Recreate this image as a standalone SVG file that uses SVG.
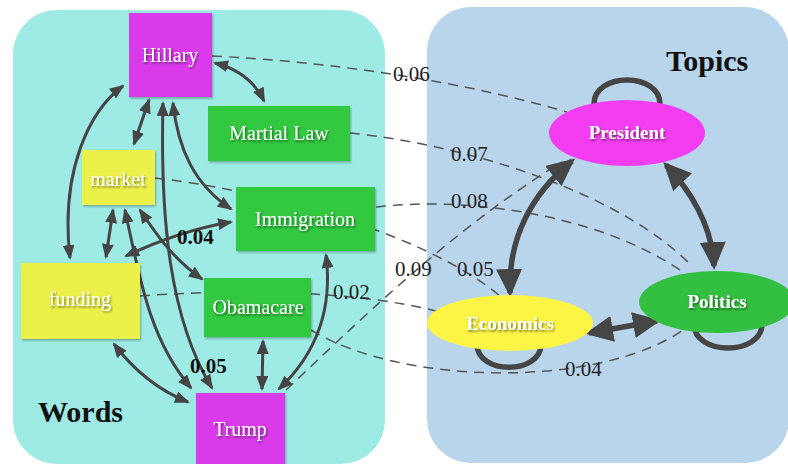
<svg xmlns="http://www.w3.org/2000/svg" width="788" height="464" viewBox="0 0 788 464">
<style>
.nt{font-family:"Liberation Serif",serif;font-size:20px;fill:#fff;text-anchor:middle;filter:url(#ts)}
.tt{font-family:"Liberation Serif",serif;font-size:19px;font-weight:bold;fill:#fff;text-anchor:middle;filter:url(#ts)}
.hd{font-family:"Liberation Serif",serif;font-size:30px;font-weight:bold;fill:#111}
.lb{font-family:"Liberation Serif",serif;font-size:21px;fill:#222}
.lbb{font-family:"Liberation Serif",serif;font-size:21px;font-weight:bold;fill:#111}
.d{fill:none;stroke:#555;stroke-width:1.5;stroke-dasharray:10 7}
.s{fill:none;stroke:#454545;stroke-width:3;marker-start:url(#ah);marker-end:url(#ah)}
.t{fill:none;stroke:#454545;stroke-width:5.5;marker-start:url(#ahb);marker-end:url(#ahb)}
.loop{fill:none;stroke:#454545;stroke-width:5.5}
.mag{fill:#da3aea}.grn{fill:#33c840}.yel{fill:#ecf148}
.box{filter:url(#sh)}
</style>
<defs>
<filter id="sh" x="-10%" y="-10%" width="125%" height="125%"><feDropShadow dx="1" dy="1.5" stdDeviation="1" flood-color="#000" flood-opacity="0.3"/></filter>
<filter id="ts" x="-10%" y="-30%" width="125%" height="170%"><feDropShadow dx="1" dy="1.5" stdDeviation="1" flood-color="#000" flood-opacity="0.55"/></filter>
<marker id="ah" markerUnits="userSpaceOnUse" viewBox="0 0 15 12" markerWidth="15" markerHeight="12" refX="13" refY="6" orient="auto-start-reverse"><path d="M0,0 L15,6 L0,12 z" fill="#454545"/></marker>
<marker id="ahb" markerUnits="userSpaceOnUse" viewBox="0 0 28 26" markerWidth="28" markerHeight="26" refX="24" refY="13" orient="auto-start-reverse"><path d="M0,0 L28,13 L0,26 z" fill="#454545"/></marker>
</defs>

<g id="panels">
<rect x="13" y="10" width="372" height="454" rx="44" fill="#9debe4"/>
<rect x="427" y="7" width="362" height="456" rx="44" fill="#b8d5ec"/>
<text class="hd" x="38" y="422">Words</text>
<text class="hd" x="666" y="71">Topics</text>
</g>

<g id="connectors">
<path class="d" d="M212,56 C300,60 440,75 567,112"/>
<path class="d" d="M350,133 C450,143 610,185 690,264"/>
<path class="d" d="M376,207 C470,196 600,215 683,272"/>
<path class="d" d="M155,178 C260,190 420,230 500,296"/>
<path class="d" d="M286,390 C350,330 450,230 562,162"/>
<path class="d" d="M140,296 C250,288 360,292 436,311"/>
<path class="d" d="M311,330 C400,385 600,390 686,328"/>

<path class="s" d="M215,63 Q250,72 264,101"/>
<path class="s" d="M149,100 L134,144"/>
<path class="s" d="M123,86 C90,110 60,170 70,258"/>
<path class="s" d="M163,103 C160,220 170,320 212,388"/>
<path class="s" d="M173,103 C178,150 195,185 231,209"/>
<path class="s" d="M113,210 L106,257"/>
<path class="s" d="M125,210 C140,280 150,340 191,388"/>
<path class="s" d="M140,210 C160,240 175,260 202,279"/>
<path class="s" d="M126,256 C160,240 195,228 231,222"/>
<path class="s" d="M114,344 Q145,385 188,402"/>
<path class="s" d="M263,341 L262,389"/>
<path class="s" d="M326,255 C333,310 315,355 279,389"/>

<path class="loop" d="M594,104 C594,72 660,72 660,104"/>
<path class="loop" d="M477,344 C477,375 541,375 541,344"/>
<path class="loop" d="M694,324 C694,356 762,356 762,324"/>
<path class="t" d="M510,293 C508,240 530,195 572,161"/>
<path class="t" d="M666,165 C690,190 712,225 714,266"/>
<path class="t" d="M589,333 L657,321"/>

<text class="lb" x="393" y="81">0.06</text>
<text class="lb" x="451" y="161">0.07</text>
<text class="lb" x="451" y="208">0.08</text>
<text class="lb" x="395" y="276">0.09</text>
<text class="lb" x="457" y="276">0.05</text>
<text class="lb" x="333" y="299">0.02</text>
<text class="lb" x="565" y="376">0.04</text>
<text class="lbb" x="177" y="244">0.04</text>
<text class="lbb" x="190" y="373">0.05</text>
</g>

<g id="Hillary"><rect class="box mag" x="129" y="13" width="83" height="84"/><text class="nt" x="170" y="62">Hillary</text></g>
<g id="MartialLaw"><rect class="box grn" x="208" y="106" width="142" height="55"/><text class="nt" x="279" y="140">Martial Law</text></g>
<g id="market"><rect class="box yel" x="82" y="150" width="73" height="55"/><text class="nt" x="118" y="186">market</text></g>
<g id="Immigration"><rect class="box grn" x="236" y="187" width="139" height="64"/><text class="nt" x="305" y="226">Immigration</text></g>
<g id="funding"><rect class="box yel" x="21" y="263" width="119" height="76"/><text class="nt" x="80" y="306">funding</text></g>
<g id="Obamacare"><rect class="box grn" x="204" y="278" width="107" height="59"/><text class="nt" x="258" y="314">Obamacare</text></g>
<g id="Trump"><rect class="box mag" x="196" y="393" width="89" height="75"/><text class="nt" x="240" y="436">Trump</text></g>

<g id="President"><ellipse cx="627" cy="133" rx="78" ry="33" fill="#f43df1"/><text class="tt" x="627" y="139">President</text></g>
<g id="Economics"><ellipse cx="510" cy="323" rx="83" ry="28" fill="#fdf545"/><text class="tt" x="510" y="330">Economics</text></g>
<g id="Politics"><ellipse cx="717" cy="302" rx="78" ry="31" fill="#33bf3f"/><text class="tt" x="717" y="308">Politics</text></g>
</svg>
